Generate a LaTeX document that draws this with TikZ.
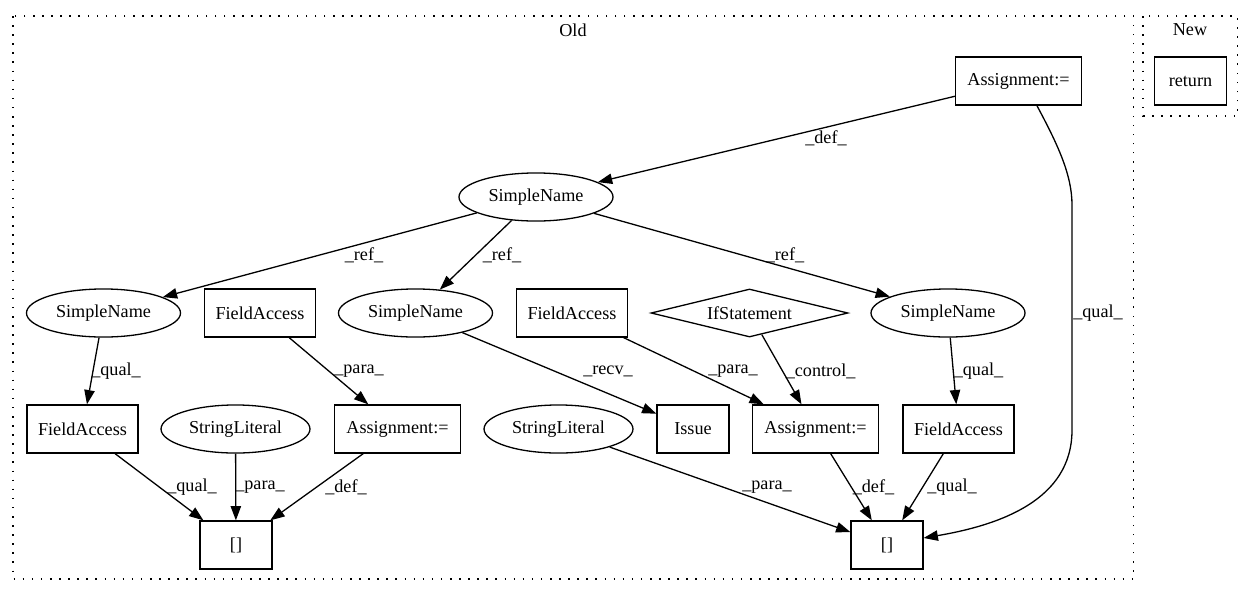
\documentclass[tikz,border=0pt]{standalone}
\usepackage{fontspec}
\setmainfont{Liberation Serif}
\usetikzlibrary{arrows.meta,shapes.geometric}
\begin{document}
\begin{tikzpicture}[x=0.77pt,y=-0.77pt,
  every node/.style={font=\fontsize{14}{16}\selectfont, inner sep=0pt},
  box/.style={draw, line width=1pt, rectangle, minimum height=37pt},
  ell/.style={draw, line width=1pt, ellipse, minimum height=37pt},
  dia/.style={draw, line width=1pt, diamond, aspect=4.2, minimum width=151.7pt, minimum height=37pt},
  cluster/.style={draw, line width=1pt, dash pattern=on 1.2pt off 5.8pt},
  edge/.style={line width=1pt, -{Triangle[length=11pt,width=8pt]}},
  lbl/.style={fill=none}
]
\useasboundingbox (0,0) rectangle (1253,596);
% clusters
\draw[cluster] (13,16) rectangle (1133.5,579);
\node (oldlbl) at (573,30) {Old};
\draw[cluster] (1143,16) rectangle (1237.5,116);
\node (newlbl) at (1190,30) {New};
% nodes
\node[box, minimum width=97pt] (asgTop) at (1018.5,81) {Assignment:=};
\node[box, minimum width=55.4pt] (ret) at (1190.5,81) {return};
\node[ell, minimum width=118.6pt] (snTop) at (536,197) {SimpleName};
\node[ell, minimum width=118.6pt] (snL) at (103.5,313) {SimpleName};
\node[box, minimum width=85.5pt] (faL1) at (260,313) {FieldAccess};
\node[ell, minimum width=118.6pt] (snM) at (415.5,313) {SimpleName};
\node[box, minimum width=85.5pt] (faM) at (572,313) {FieldAccess};
\node[dia] (ifs) at (749.5,313) {IfStatement};
\node[ell, minimum width=118.6pt] (snR) at (948,313) {SimpleName};
\node[box, minimum width=85.5pt] (faL2) at (82.5,429) {FieldAccess};
\node[ell, minimum width=114.7pt] (slL) at (235.5,429) {StringLiteral};
\node[box, minimum width=97pt] (asgL) at (397.5,429) {Assignment:=};
\node[ell, minimum width=114.7pt] (slR) at (558.5,429) {StringLiteral};
\node[box, minimum width=55.4pt] (issue) at (693,429) {Issue};
\node[box, minimum width=97pt] (asgR) at (815.5,429) {Assignment:=};
\node[box, minimum width=85.5pt] (faR) at (958.5,429) {FieldAccess};
\node[box, minimum width=55.4pt] (brL) at (236,545) {[]};
\node[box, minimum width=55.4pt] (brR) at (887,545) {[]};
% edges
\draw[edge] (asgTop) -- (snTop) node[lbl] at (826,138) {\_def\_};
\draw[edge] ([xshift=14.2pt]asgTop.south) .. controls (1058,145) and (1072,175) .. (1072,205)
   -- (1072,430) .. controls (1072,500) and (1000,525) .. ([yshift=5.4pt]brR.east)
   node[lbl] at (1098,313) {\_qual\_};
\draw[edge] (snTop) -- (snL) node[lbl] at (364,255) {\_ref\_};
\draw[edge] (snTop) -- (snM) node[lbl] at (502,255) {\_ref\_};
\draw[edge] (snTop) -- (snR) node[lbl] at (785,255) {\_ref\_};
\draw[edge] (snL) -- (faL2) node[lbl] at (116,371) {\_qual\_};
\draw[edge] (faL1) -- (asgL) node[lbl] at (359,371) {\_para\_};
\draw[edge] (snM) -- (issue) node[lbl] at (608,371) {\_recv\_};
\draw[edge] (faM) -- (asgR) node[lbl] at (733,371) {\_para\_};
\draw[edge] (ifs) -- (asgR) node[lbl] at (820.6,371) {\_control\_};
\draw[edge] (snR) -- (faR) node[lbl] at (978.5,371) {\_qual\_};
\draw[edge] (faL2) -- (brL) node[lbl] at (192,487) {\_qual\_};
\draw[edge] (slL) -- (brL) node[lbl] at (260,487) {\_para\_};
\draw[edge] (asgL) -- (brL) node[lbl] at (346,487) {\_def\_};
\draw[edge] (slR) -- (brR) node[lbl] at (767,487) {\_para\_};
\draw[edge] (asgR) -- (brR) node[lbl] at (873.5,487) {\_def\_};
\draw[edge] (faR) -- (brR) node[lbl] at (952,487) {\_qual\_};
\end{tikzpicture}
\end{document}
